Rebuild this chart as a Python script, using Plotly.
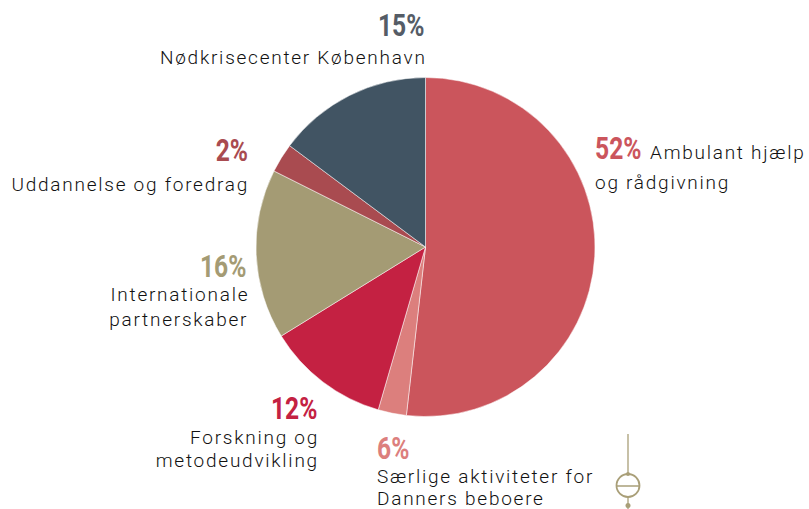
import plotly.graph_objects as go

W, H = 809, 509

categories = ["Ambulant hjælp og rådgivning", "Særlige aktiviteter for Danners beboere",
              "Forskning og metodeudvikling", "Internationale partnerskaber",
              "Uddannelse og foredrag", "Nødkrisecenter København"]
slice_values = [51.8, 2.7, 11.7, 16.2, 2.8, 14.8]
percent_labels = ["52%", "6%", "12%", "16%", "2%", "15%"]
slice_colors = ["#CB555C", "#DC7F7D", "#C42142", "#A49B74", "#A94B50", "#415463"]
pct_colors = ["#CB555C", "#DC7F7D", "#C42142", "#A49B74", "#A94B50", "#555C66"]

BODY = dict(family="Roboto", size=19, weight=300, color="#111111")
PCT = "Roboto"


def px(x):
    return x / W


def py(y):
    return 1 - y / H


def note(text, x, y, anchor, font):
    return dict(text=text, x=px(x), y=py(y), xref="paper", yref="paper", xanchor=anchor,
                yanchor="middle", showarrow=False, font=font, borderpad=0, align=anchor)


def pct(i, x, y, anchor):
    return note(percent_labels[i], x, y, anchor,
                dict(family=PCT, size=32, weight=700, color=pct_colors[i]))


annotations = [
    pct(0, 594, 148, "left"), note("Ambulant hjælp", 649, 152, "left", BODY),
    note("og rådgivning", 594, 182, "left", BODY),
    pct(1, 376, 448, "left"), note("Særlige aktiviteter for", 376, 476, "left", BODY),
    note("Danners beboere", 376, 498.5, "left", BODY),
    pct(2, 318, 408, "right"), note("Forskning og", 320, 437, "right", BODY),
    note("metodeudvikling", 320, 460, "right", BODY),
    pct(3, 247, 266, "right"), note("Internationale", 250, 294, "right", BODY),
    note("partnerskaber", 250, 319, "right", BODY),
    pct(4, 249, 150, "right"), note("Uddannelse og foredrag", 250, 184, "right", BODY),
    pct(5, 425, 25, "right"), note("Nødkrisecenter København", 428, 58, "right", BODY),
]

GOLD = "#A99F78"
shapes = [
    dict(type="line", xref="paper", yref="paper", x0=px(628), x1=px(628), y0=py(434), y1=py(473),
         line=dict(color=GOLD, width=1.3)),
    dict(type="circle", xref="paper", yref="paper", x0=px(616.5), x1=px(639.5), y0=py(497), y1=py(474),
         line=dict(color=GOLD, width=1.8)),
    dict(type="line", xref="paper", yref="paper", x0=px(617), x1=px(639), y0=py(486), y1=py(486),
         line=dict(color=GOLD, width=1.5)),
    dict(type="line", xref="paper", yref="paper", x0=px(628), x1=px(628), y0=py(497), y1=py(509),
         line=dict(color=GOLD, width=1.3)),
    dict(type="circle", xref="paper", yref="paper", x0=px(625.5), x1=px(630.5), y0=py(508), y1=py(503),
         fillcolor=GOLD, line=dict(color=GOLD, width=0)),
    dict(type="circle", xref="paper", yref="paper", x0=px(626), x1=px(630), y0=py(476), y1=py(472),
         fillcolor=GOLD, line=dict(color=GOLD, width=0)),
]

fig = go.Figure(go.Pie(
    labels=categories, values=slice_values, sort=False, direction="clockwise", rotation=0,
    textinfo="none", hoverinfo="label", showlegend=False,
    marker=dict(colors=slice_colors, line=dict(color="white", width=0.5)),
    domain=dict(x=[px(256), px(595)], y=[py(416.5), py(77.5)]),
))
fig.update_layout(width=W, height=H, margin=dict(l=0, r=0, t=0, b=0), paper_bgcolor="white",
                  annotations=annotations, shapes=shapes)

POST = """
document.body.style.margin = '0';
document.querySelectorAll('.annotation-text').forEach(function (t) {
  if (t.textContent.indexOf('%') >= 0) {
    t.setAttribute('lengthAdjust', 'spacingAndGlyphs');
    t.setAttribute('textLength', t.getComputedTextLength() * 0.77);
  } else {
    t.style.letterSpacing = '1.75px';
  }
});
"""
fig.write_html("out.html", post_script=POST, config=dict(displayModeBar=False))
